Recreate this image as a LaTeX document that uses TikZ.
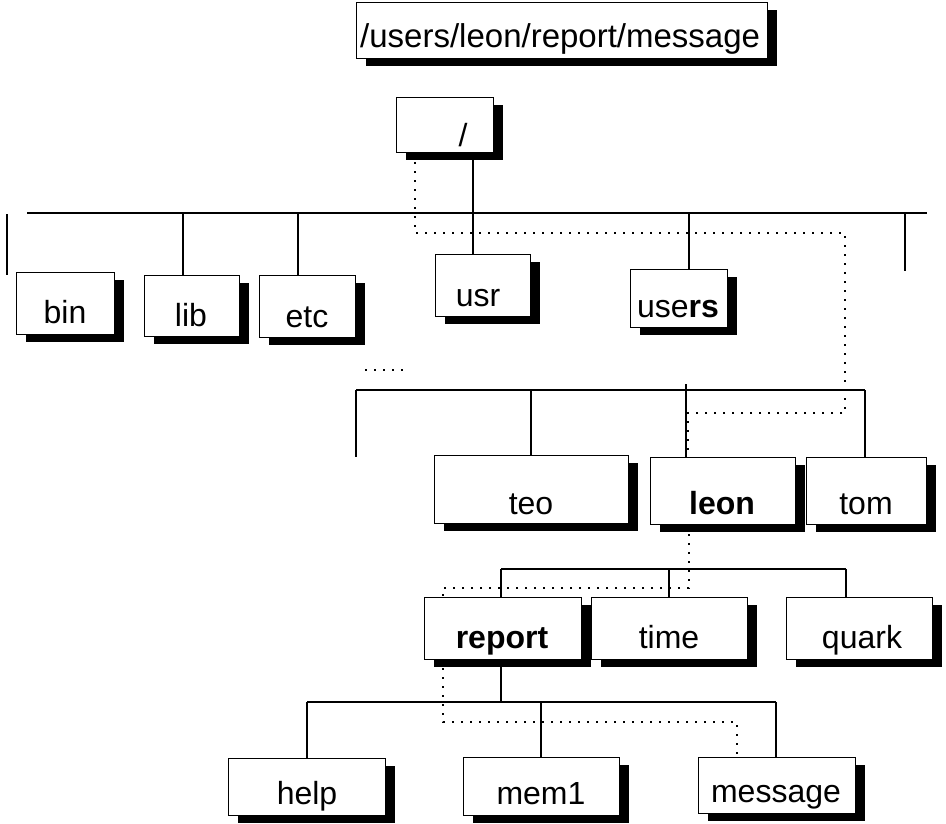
\documentclass[tikz,border=0pt]{standalone}
\usepackage{fontspec}
\setmainfont{Liberation Sans}
\usetikzlibrary{shadows}
\tikzset{
  boxst/.style={draw, line width=1.3pt, fill=white, rectangle, inner sep=0pt, anchor=north west,
    drop shadow={shadow xshift=9pt, shadow yshift=-7pt, opacity=1, fill=black}},
  lbl/.style={inner sep=0pt, anchor=base, font=\fontsize{32}{37}\selectfont},
  wire/.style={line width=1.3pt},
  path/.style={line width=2pt, dash pattern=on 2pt off 7pt},
}
\newcommand\mkbox[8]{%
  \node[boxst, minimum width={(#4-#2)*1pt}, minimum height={(#5-#3)*1pt}] (#1) at (#2,#3) {};
  \node[lbl] (#1T) at (#7,#8) {#6};
}
\begin{document}
\begin{tikzpicture}[x=1pt,y=-1pt]
\useasboundingbox (0,0) rectangle (946,823);
% top path box
\node[boxst, minimum width=411pt, minimum height=56pt] (pathbox) at (356,2) {};
\node[inner sep=0pt, anchor=base west, font=\fontsize{33}{38}\selectfont] (pathT) at (360,47) {/users/leon/report/message};
% root
\mkbox{root}{396}{97}{493}{152}{/}{463}{146}
% level 1
\mkbox{bin}{16}{272}{114}{334}{bin}{65}{323}
\mkbox{lib}{144}{275}{239}{336}{lib}{191}{326}
\mkbox{etc}{259}{275}{355}{337}{etc}{307}{327}
\mkbox{usr}{435}{254}{530}{316}{usr}{478}{306}
\mkbox{users}{630}{269}{727}{327}{use\textbf{rs}}{678}{317}
% level 2
\mkbox{teo}{434}{455}{628}{523}{teo}{531}{514}
\mkbox{leon}{650}{457}{795}{524}{\textbf{leon}}{722}{514}
\mkbox{tom}{806}{457}{926}{524}{tom}{866}{514}
% level 3
\mkbox{report}{424}{597}{581}{659}{\textbf{report}}{502}{648}
\mkbox{time}{591}{597}{747}{659}{time}{669}{648}
\mkbox{quark}{786}{597}{932}{659}{quark}{862}{648}
% level 4
\mkbox{help}{228}{758}{385}{815}{help}{307}{804}
\mkbox{mem1}{463}{757}{619}{815}{mem1}{541}{804}
\mkbox{message}{698}{757}{855}{813}{message}{776}{802}

% bus 1
\coordinate (b1L) at (27,213);
\coordinate (b1R) at (927,213);
\draw[wire] (b1L) -- (b1R);
\coordinate (cRoot) at (473,213);
\draw[wire] (cRoot |- root.south) -- (cRoot);
\coordinate (cLib) at (183,213);
\draw[wire] (cLib) -- (cLib |- lib.north);
\coordinate (cEtc) at (298,213);
\draw[wire] (cEtc) -- (cEtc |- etc.north);
\draw[wire] (cRoot) -- (cRoot |- usr.north);
\coordinate (cUsers) at (689,213);
\draw[wire] (cUsers) -- (cUsers |- users.north);
\coordinate (s1a) at (7,214);
\coordinate (s1b) at (7,275);
\draw[wire] (s1a) -- (s1b);
\coordinate (s2a) at (905,213);
\coordinate (s2b) at (905,271);
\draw[wire] (s2a) -- (s2b);

% bus 2
\coordinate (b2L) at (356,390);
\coordinate (b2R) at (865,390);
\draw[wire] (b2L) -- (b2R);
\coordinate (s3b) at (356,457);
\draw[wire] (b2L) -- (s3b);
\coordinate (cTeo) at (531,390);
\draw[wire] (cTeo) -- (cTeo |- teo.north);
\coordinate (cLeon) at (686,384);
\draw[wire] (cLeon) -- (cLeon |- leon.north);
\draw[wire] (b2R) -- (b2R |- tom.north);
\coordinate (ell1) at (365,370);
\coordinate (ell2) at (405,370);
\draw[path] (ell1) -- (ell2);

% bus 3
\coordinate (b3L) at (501,569);
\coordinate (b3R) at (846,569);
\draw[wire] (b3L) -- (b3R);
\draw[wire] (b3L) -- (b3L |- report.north);
\coordinate (cTime) at (669,569);
\draw[wire] (cTime) -- (cTime |- time.north);
\draw[wire] (b3R) -- (b3R |- quark.north);

% bus 4
\coordinate (b4L) at (307,702);
\coordinate (b4R) at (776,702);
\coordinate (cRep) at (501,702);
\draw[wire] (cRep |- report.south) -- (cRep);
\draw[wire] (b4L) -- (b4R);
\draw[wire] (b4L) -- (b4L |- help.north);
\coordinate (cMem) at (541,702);
\draw[wire] (cMem) -- (cMem |- mem1.north);
\draw[wire] (b4R) -- (b4R |- message.north);

% dotted path
\coordinate (d1) at (415,162);
\coordinate (d2) at (415,233);
\coordinate (d3) at (845,233);
\coordinate (d4) at (845,413);
\coordinate (d5) at (688,413);
\draw[path] (d1) -- (d2) -- (d3) -- (d4) -- (d5) -- (d5 |- leon.north);
\coordinate (e1) at (689,534);
\coordinate (e2) at (689,588);
\coordinate (e3) at (443,588);
\draw[path] (e1) -- (e2) -- (e3) -- (e3 |- report.north);
\coordinate (f1) at (443,668);
\coordinate (f2) at (443,722);
\coordinate (f3) at (737,722);
\draw[path] (f1) -- (f2) -- (f3) -- (f3 |- message.north);
\end{tikzpicture}
\end{document}
